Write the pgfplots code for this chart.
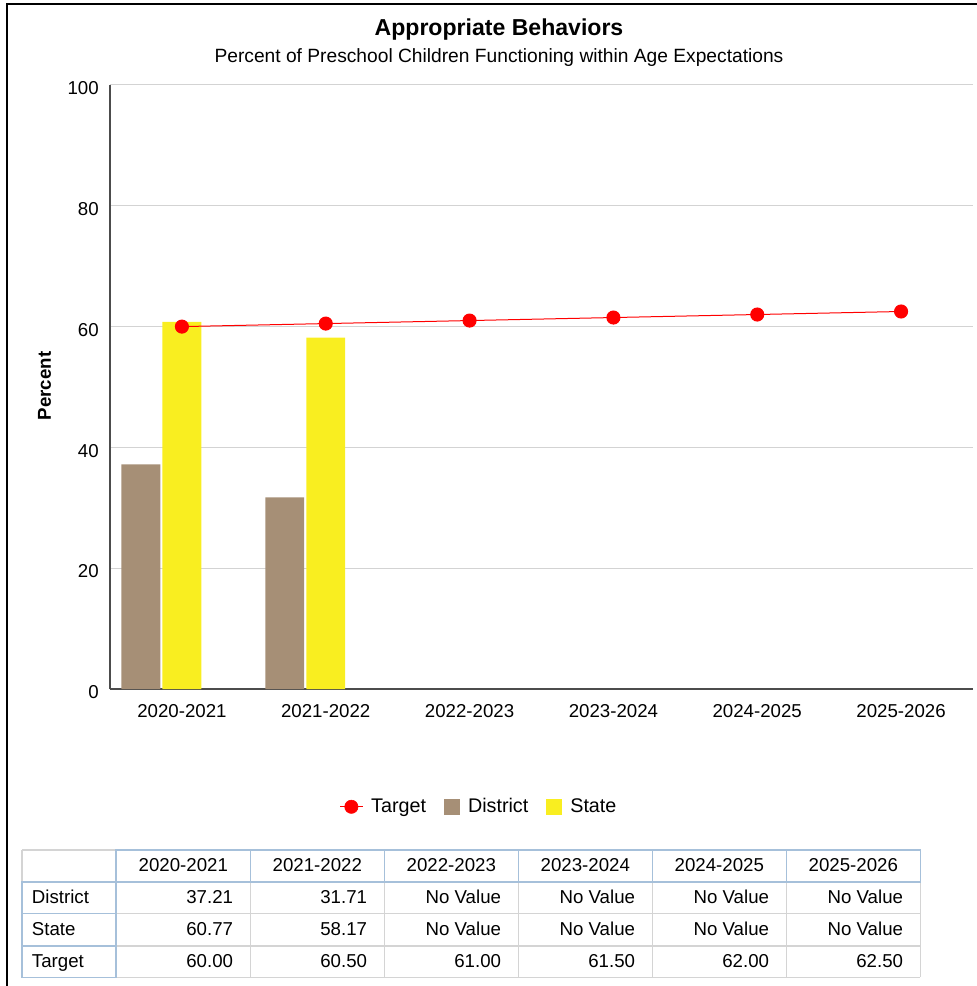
\documentclass[border=0pt]{standalone}
\usepackage{fontspec}
\setmainfont{Liberation Sans}
\usepackage{pgfplots}
\pgfplotsset{compat=1.18}

\definecolor{district}{RGB}{166,143,118}
\definecolor{state}{RGB}{249,238,32}
\definecolor{target}{RGB}{255,0,0}
\definecolor{gridc}{RGB}{211,211,211}
\definecolor{tblue}{RGB}{166,192,218}
\definecolor{tgray}{RGB}{212,212,212}

\newcommand{\txt}{\fontsize{14}{16}\selectfont}

\begin{document}
\begin{tikzpicture}
\begin{axis}[
    scale only axis,
    width=647.25pt, height=453pt,
    xmin=-0.5, xmax=5.5, ymin=0, ymax=100,
    axis x line*=bottom, axis y line*=left,
    axis line style={draw=black!70, line width=0.9pt, -},
    xtick={0,...,5},
    xticklabels={2020-2021,2021-2022,2022-2023,2023-2024,2024-2025,2025-2026},
    ytick={0,20,...,100},
    ymajorgrids, grid style={gridc, line width=0.75pt},
    major tick length=0pt,
    tick label style={font=\txt, inner sep=0pt},
    xticklabel style={anchor=base, yshift=-21pt},
    yticklabel style={anchor=base east, xshift=-8.25pt, yshift=-7.3pt},
    /pgf/number format/assume math mode=true,
    legend columns=-1,
    legend style={at={(0.4264,-0.195)}, anchor=center, draw=none,
        font=\fontsize{14.8}{17}\selectfont,
        nodes={inner sep=0pt},
        /tikz/every odd column/.style={column sep=6pt},
        /tikz/every even column/.style={column sep=13.5pt}},
]
% legend first entry: target line with marker
\addlegendimage{legend image code/.code={
    \draw[target, line width=0.75pt] (0pt,0pt) -- (17pt,0pt);
    \fill[target] (8.5pt,0pt) circle (5pt);}}
\addlegendentry{Target}

\addplot[ybar, bar width=0.271, bar shift=-0.285, fill=district, draw=none,
    legend image code/.code={\fill[district] (0pt,-6pt) rectangle (12pt,6pt);}]
    coordinates {(0,37.21) (1,31.71)};
\addlegendentry{District}

\addplot[ybar, bar width=0.271, bar shift=0, fill=state, draw=none,
    legend image code/.code={\fill[state] (0pt,-6pt) rectangle (12pt,6pt);}]
    coordinates {(0,60.77) (1,58.17)};
\addlegendentry{State}

\addplot[target, line width=0.75pt, mark=*, mark size=4.9pt,
    mark options={fill=target, draw=target}, forget plot]
    coordinates {(0,60.00) (1,60.50) (2,61.00) (3,61.50) (4,62.00) (5,62.50)};
\end{axis}

% everything else in pixel units of the reference, y downward
\begin{scope}[x=0.75pt, y=-0.75pt, shift={(-110,-689)}]
\path[use as bounding box] (0,0) rectangle (977,986);
\draw[black, line width=1.2pt] (7,986) -- (7,4) -- (977,4);

\node[anchor=base, inner sep=0pt, font=\bfseries\fontsize{17.3}{20}\selectfont] at (499,36) {Appropriate Behaviors};
\node[anchor=base, inner sep=0pt, font=\fontsize{14.4}{17}\selectfont] at (499,63) {Percent of Preschool Children Functioning within Age Expectations};
\node[anchor=base, inner sep=0pt, rotate=90, font=\bfseries\txt] at (51,386) {Percent};

% data table
\foreach \yy in {850,881.7,913.3,945.7,977.3}
    \draw[tgray, line width=1.2pt] (22.3,\yy) -- (920.3,\yy);
\foreach \xx in {22.3,116.3,250.3,384.3,518.3,652.3,786.3,920.3}
    \draw[tgray, line width=1.2pt] (\xx,850) -- (\xx,977.3);
\foreach \i in {0,...,5}
    \draw[tblue, line width=1.2pt] ({116.3+134*\i},850) rectangle ({250.3+134*\i},881.7);
\foreach \ya/\yb in {881.7/913.3,913.3/945.7,945.7/977.3}
    \draw[tblue, line width=1.2pt] (22.3,\ya) rectangle (116.3,\yb);

\begin{scope}[every node/.style={inner sep=0pt, font=\txt}]
\foreach \t [count=\i from 0] in {2020-2021,2021-2022,2022-2023,2023-2024,2024-2025,2025-2026}
    \node[anchor=base] at ({183.3+134*\i},871.7) {\t};
\node[anchor=base west] at (31.7,903.3) {District};
\node[anchor=base west] at (31.7,935.3) {State};
\node[anchor=base west] at (31.7,967.3) {Target};
\foreach \t [count=\i from 0] in {37.21,31.71,No Value,No Value,No Value,No Value}
    \node[anchor=base east] at ({233.3+134*\i},903.3) {\t};
\foreach \t [count=\i from 0] in {60.77,58.17,No Value,No Value,No Value,No Value}
    \node[anchor=base east] at ({233.3+134*\i},935.3) {\t};
\foreach \t [count=\i from 0] in {60.00,60.50,61.00,61.50,62.00,62.50}
    \node[anchor=base east] at ({233.3+134*\i},967.3) {\t};
\end{scope}
\end{scope}
\end{tikzpicture}
\end{document}
